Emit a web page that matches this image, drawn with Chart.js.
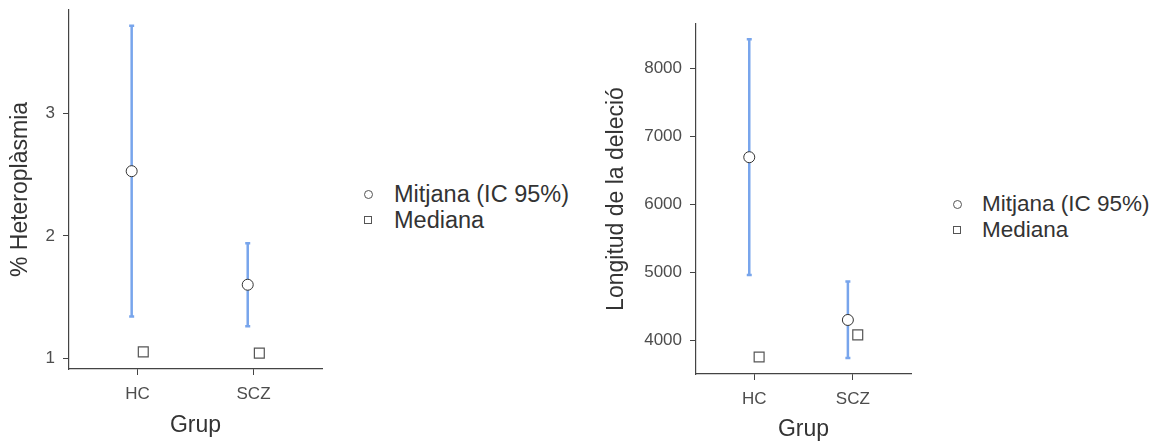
<!DOCTYPE html>
<html>
<head>
<meta charset="utf-8">
<title>Heteroplàsmia i longitud de la deleció</title>
<script src="https://cdn.jsdelivr.net/npm/chart.js@4.4.1/dist/chart.umd.min.js"></script>
<style>
  body { margin: 0; background: #fff; width: 1158px; height: 441px; position: relative; overflow: hidden; }
  canvas { position: absolute; top: 0; }
  .legend { position: absolute; font-family: "Liberation Sans", Arial, sans-serif; color: #333; }
  .row { position: absolute; white-space: nowrap; line-height: 26px; height: 26px; }
  .sym { position: absolute; box-sizing: border-box; border: 1px solid #555; background: #fff; }
</style>
</head>
<body>
<canvas id="left" width="340" height="441" style="left:0px"></canvas>
<canvas id="right" width="340" height="441" style="left:590px"></canvas>

<div class="legend" id="legLeft" style="left:0;top:0"></div>
<div class="legend" id="legRight" style="left:0;top:0"></div>

<script>
// groups on the x axis
const groups = ["HC", "SCZ"];

// % heteroplasmy: mean, 95% CI and median per group
const hetMean = [2.53, 1.60];
const hetLow = [1.34, 1.26];
const hetHigh = [3.72, 1.94];
const hetMedian = [1.05, 1.04];
const hetTicks = [1, 2, 3];

// deletion length: mean, 95% CI and median per group
const lenMean = [6690, 4295];
const lenLow = [4955, 3735];
const lenHigh = [8425, 4860];
const lenMedian = [3750, 4075];
const lenTicks = [4000, 5000, 6000, 7000, 8000];

const legendLabels = ["Mitjana (IC 95%)", "Mediana"];

const FONT = "Liberation Sans";
const DODGE = 0.05;
const BAR_COLOR = "#78a5ec";

// draws the CI whiskers for each group using the chart scales
const errorBars = {
    id: "errorBars",
    beforeDatasetsDraw(chart, args, opts) {
        const ctx = chart.ctx;
        const xs = chart.scales.x, ys = chart.scales.y;
        ctx.save();
        ctx.strokeStyle = BAR_COLOR;
        ctx.lineWidth = 2.5;
        opts.low.forEach((lo, i) => {
            const x = xs.getPixelForValue(i + 1 - DODGE);
            const y1 = ys.getPixelForValue(lo);
            const y2 = ys.getPixelForValue(opts.high[i]);
            ctx.beginPath();
            ctx.moveTo(x, y1); ctx.lineTo(x, y2);
            ctx.moveTo(x - 2.5, y1); ctx.lineTo(x + 2.5, y1);
            ctx.moveTo(x - 2.5, y2); ctx.lineTo(x + 2.5, y2);
            ctx.stroke();
        });
        ctx.restore();
    }
};

function makeChart(id, cfg) {
    const ctx = document.getElementById(id).getContext("2d");
    return new Chart(ctx, {
        type: "scatter",
        data: {
            datasets: [
                {
                    label: legendLabels[0],
                    data: groups.map((g, i) => ({ x: i + 1 - DODGE, y: cfg.mean[i] })),
                    pointStyle: "circle",
                    pointRadius: 5.5,
                    pointBackgroundColor: "#fff",
                    pointBorderColor: "#333",
                    pointBorderWidth: 1
                },
                {
                    label: legendLabels[1],
                    data: groups.map((g, i) => ({ x: i + 1 + DODGE, y: cfg.median[i] })),
                    pointStyle: "rect",
                    pointRadius: 7,
                    pointBackgroundColor: "#fff",
                    pointBorderColor: "#555",
                    pointBorderWidth: 1.2
                }
            ]
        },
        options: {
            responsive: false,
            animation: false,
            devicePixelRatio: 1,
            layout: { padding: cfg.padding },
            plugins: {
                legend: { display: false },
                tooltip: { enabled: false },
                errorBars: { low: cfg.low, high: cfg.high }
            },
            scales: {
                x: {
                    type: "linear",
                    min: 0.41,
                    max: 2.59,
                    afterBuildTicks: s => { s.ticks = groups.map((g, i) => ({ value: i + 1 })); },
                    afterFit: s => {
                        s.height = cfg.xHeight;
                        s.paddingLeft = 0; s.paddingRight = 0;
                    },
                    ticks: {
                        callback: v => groups[v - 1],
                        font: { family: FONT, size: 17 },
                        color: "#4d4d4d",
                        padding: 9,
                        maxRotation: 0
                    },
                    grid: { drawOnChartArea: false, tickLength: 6, color: "#444" },
                    border: { display: true, color: "#444", width: 1.2 },
                    title: {
                        display: true,
                        text: "Grup",
                        font: { family: FONT, size: 23, lineHeight: 1 },
                        color: "#333",
                        padding: { top: 0, bottom: cfg.xTitlePad }
                    }
                },
                y: {
                    min: cfg.yMin,
                    max: cfg.yMax,
                    afterBuildTicks: s => { s.ticks = cfg.ticks.map(v => ({ value: v })); },
                    afterFit: s => {
                        s.width = cfg.yWidth;
                        s.paddingTop = 0; s.paddingBottom = 0;
                    },
                    ticks: {
                        callback: v => String(v),
                        font: { family: FONT, size: 17 },
                        color: "#4d4d4d",
                        padding: 8
                    },
                    grid: { drawOnChartArea: false, tickLength: 6, color: "#444" },
                    border: { display: true, color: "#444", width: 1.2 },
                    title: {
                        display: true,
                        text: cfg.yTitle,
                        font: { family: FONT, size: 23, lineHeight: 1 },
                        color: "#333",
                        padding: { top: cfg.yTitlePad, bottom: 0 }
                    }
                }
            }
        },
        plugins: [errorBars]
    });
}

makeChart("left", {
    mean: hetMean, median: hetMedian, low: hetLow, high: hetHigh,
    ticks: hetTicks, yMin: 0.91, yMax: 3.85,
    yTitle: "% Heteroplàsmia",
    padding: { left: 0, top: 10, right: 18, bottom: 0 },
    xHeight: 72, yWidth: 69, xTitlePad: 4, yTitlePad: 9
});

makeChart("right", {
    mean: lenMean, median: lenMedian, low: lenLow, high: lenHigh,
    ticks: lenTicks, yMin: 3500, yMax: 8650,
    yTitle: "Longitud de la deleció",
    padding: { left: 0, top: 24, right: 19, bottom: 0 },
    xHeight: 67, yWidth: 106, xTitlePad: 0, yTitlePad: 15
});

// html legends next to each panel
function buildLegend(id, symX, textX, rowY, size) {
    const el = document.getElementById(id);
    legendLabels.forEach((txt, i) => {
        const sym = document.createElement("div");
        sym.className = "sym";
        const d = i === 0 ? 9 : 8;
        sym.style.width = d + "px";
        sym.style.height = d + "px";
        sym.style.left = (symX - d / 2) + "px";
        sym.style.top = (rowY[i] - d / 2) + "px";
        if (i === 0) sym.style.borderRadius = "50%";
        el.appendChild(sym);
        const row = document.createElement("div");
        row.className = "row";
        row.style.left = textX + "px";
        row.style.top = (rowY[i] - 13) + "px";
        row.style.fontSize = size + "px";
        row.textContent = txt;
        el.appendChild(row);
    });
}
buildLegend("legLeft", 368, 394, [194, 220], 23.5);
buildLegend("legRight", 957, 982, [204, 230], 22.5);
</script>
</body>
</html>
